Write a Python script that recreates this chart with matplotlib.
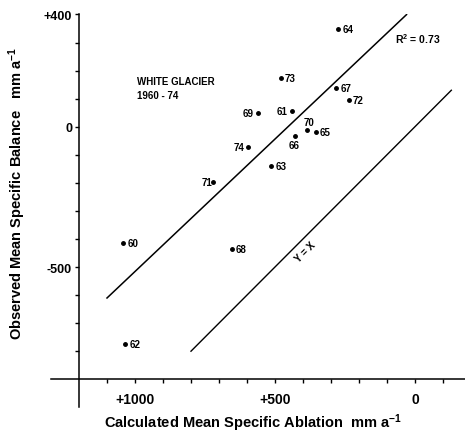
import matplotlib
matplotlib.use('Agg')
import matplotlib.pyplot as plt
import numpy as np

plt.rcParams['font.family'] = ['Liberation Sans', 'DejaVu Sans']
plt.rcParams['font.weight'] = 'bold'
plt.rcParams['mathtext.fontset'] = 'custom'
plt.rcParams['mathtext.bf'] = 'Liberation Sans:bold'
plt.rcParams['mathtext.rm'] = 'Liberation Sans:bold'
plt.rcParams['mathtext.default'] = 'bf'

# White Glacier 1960-74, calculated ablation (x) vs observed balance (y), mm/a
years = ['60', '61', '62', '63', '64', '65', '66', '67', '68', '69', '70', '71', '72', '73', '74']
ablation = [1042, 439, 1035, 514, 274, 355, 430, 281, 654, 560, 385, 720, 237, 479, 595]
balance = [-416, 57, -774, -139, 348, -20, -34, 137, -436, 48, -12, -198, 96, 174, -71]
label_side = ['r', 'l', 'r', 'r', 'r', 'r', 'b', 'r', 'r', 'l', 't', 'l', 'r', 'r', 'l']

# regression line endpoints (x range) and coefficients
reg_x = [1100, 30]
reg_a, reg_b = 428, -0.944
# 1:1 line (balance = -ablation)
one_x = [800, -130]

fig = plt.figure(figsize=(4.65, 4.39), dpi=100)
ax = fig.add_axes([0.1097, 0.0699, 0.8898, 0.8948])
ax.set_xlim(1300, -178)
ax.set_ylim(-1000, 400)

for s in ['top', 'right']:
    ax.spines[s].set_visible(False)
ax.spines['left'].set_position(('data', 1200))
ax.spines['bottom'].set_position(('data', -900))
ax.spines['left'].set_linewidth(1.1)
ax.spines['bottom'].set_linewidth(1.1)

ax.set_xticks([1000, 500, 0])
ax.set_xticklabels(['+1000', '+500', '0'], fontsize=10, fontweight='bold')
ax.set_xticks([1100, 900, 800, 700, 600, 400, 300, 200, 100, -100], minor=True)
ax.set_yticks([400, 0, -500])
ax.set_yticklabels(['+400', '0', '-500'], fontsize=9, fontweight='bold')
ax.set_yticks([300, 200, 100, -100, -200, -300, -400, -600, -700, -800], minor=True)
ax.tick_params(which='both', direction='out', length=3, width=1)
ax.tick_params(axis='x', which='major', pad=6)
ax.tick_params(axis='y', which='major', pad=2)

# data points
ax.plot(ablation, balance, 'o', color='black', markersize=2.5, linestyle='none')
offsets = {'r': (3, 0, 'left', 'center'), 'l': (-3, 0, 'right', 'center'),
           't': (1, 6, 'center', 'center'), 'b': (0, -6, 'center', 'center')}
for yr, xv, yv, side in zip(years, ablation, balance, label_side):
    dx, dy, ha, va = offsets[side]
    if yr == '71':
        dx = -1
    ax.annotate(yr, (xv, yv), xytext=(dx, dy), textcoords='offset points',
                ha=ha, va=va, fontsize=7, fontweight='bold')

# regression line
rx = np.array(reg_x)
ax.plot(rx, reg_a + reg_b * rx, color='black', linewidth=1.1)
# y = x line
ox = np.array(one_x)
ax.plot(ox, -ox, color='black', linewidth=1.0)

ax.text(393, -446, 'Y = X', rotation=45, fontsize=7, fontweight='bold',
        ha='center', va='center')
ax.text(71, 316, 'R$^2$ = 0.73', fontsize=7.5, fontweight='bold', ha='left', va='center')
ax.text(993, 180, 'WHITE GLACIER\n1960 - 74', fontsize=7, fontweight='bold',
        ha='left', va='top', linespacing=1.5)

fig.text(0.544, 0.035, 'Calculated Mean Specific Ablation  mm a$^{-1}$',
         fontsize=10.5, fontweight='bold', ha='center', va='center')
fig.text(0.037, 0.56, 'Observed Mean Specific Balance   mm a$^{-1}$',
         fontsize=10.5, fontweight='bold', ha='center', va='center', rotation=90)

fig.savefig('out.png', dpi=100)
